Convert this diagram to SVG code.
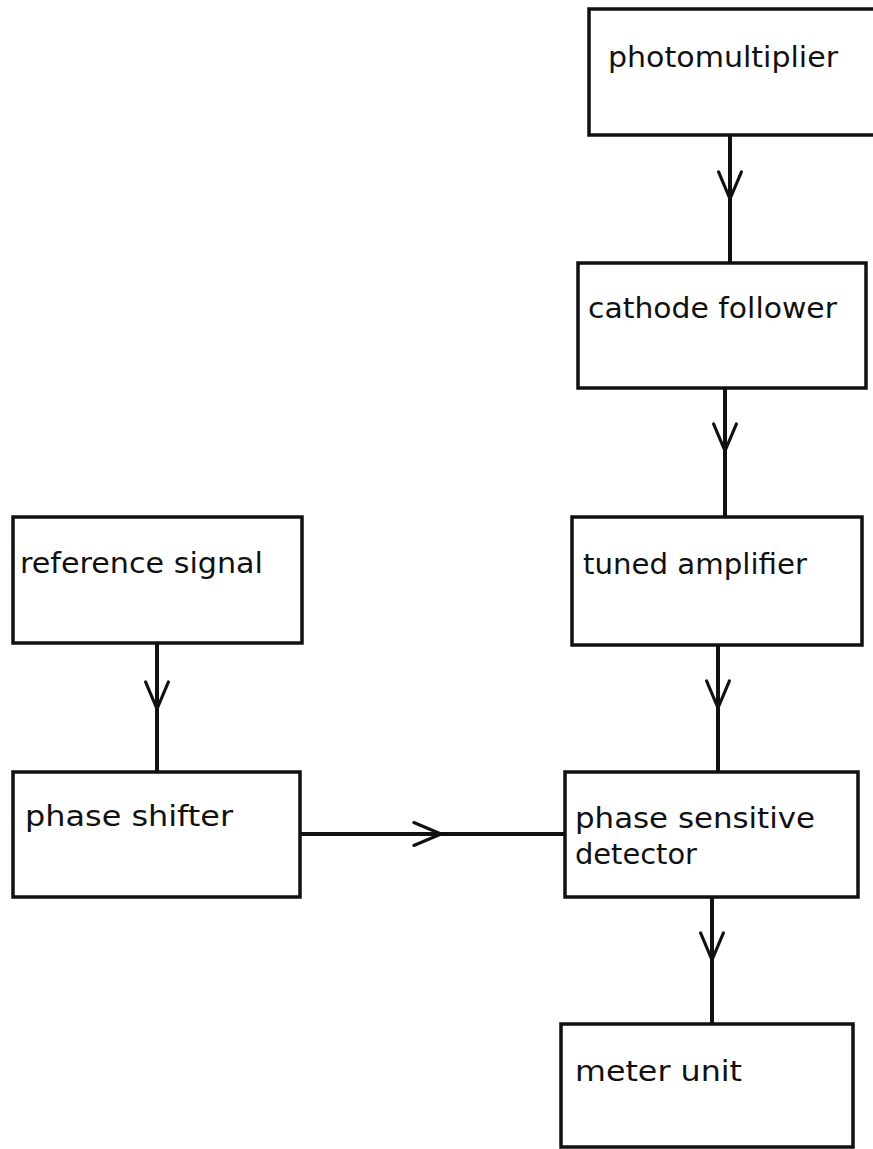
<svg xmlns="http://www.w3.org/2000/svg" width="873" height="1149" viewBox="0 0 873 1149">
  <style>
    .box { fill: #ffffff; stroke: #111111; stroke-width: 3.5; }
    .lbl { font-family: "DejaVu Sans", "Liberation Sans", sans-serif; font-size: 28px; fill: #111111; }
    .conn { fill: none; stroke: #111111; stroke-width: 4; marker-mid: url(#chev); }
  </style>
  <defs>
    <marker id="chev" markerUnits="userSpaceOnUse" markerWidth="40" markerHeight="40" viewBox="-22 -14 26 28" refX="0" refY="0" orient="auto" overflow="visible">
      <path d="M-19,-8 L0,0 L-19,8" fill="none" stroke="#111111" stroke-width="2.2" stroke-linecap="round" stroke-linejoin="round"/>
    </marker>
  </defs>
  <rect width="873" height="1149" fill="#ffffff"/>

  <g id="connectors">
    <polyline class="conn" points="730,135 730,199 730,263"/>
    <polyline class="conn" points="725,388 725,451 725,517"/>
    <polyline class="conn" points="718,645 718,708 718,772"/>
    <polyline class="conn" points="712,897 712,960 712,1024"/>
    <polyline class="conn" points="157,643 157,709 157,772"/>
    <polyline class="conn" points="300,834 441,834 565,834"/>
  </g>

  <g id="photomultiplier">
    <rect class="box" x="589" y="9" width="290" height="126"/>
    <text class="lbl" x="608" y="67" textLength="230" lengthAdjust="spacingAndGlyphs">photomultiplier</text>
  </g>
  <g id="cathode-follower">
    <rect class="box" x="578" y="263" width="288" height="125"/>
    <text class="lbl" x="588" y="318" textLength="249" lengthAdjust="spacingAndGlyphs">cathode follower</text>
  </g>
  <g id="tuned-amplifier">
    <rect class="box" x="572" y="517" width="290" height="128"/>
    <text class="lbl" x="583" y="574" textLength="224" lengthAdjust="spacingAndGlyphs">tuned amplifier</text>
  </g>
  <g id="phase-sensitive-detector">
    <rect class="box" x="565" y="772" width="293" height="125"/>
    <text class="lbl" x="575" y="828" textLength="240" lengthAdjust="spacingAndGlyphs">phase sensitive</text>
    <text class="lbl" x="575" y="864" textLength="122" lengthAdjust="spacingAndGlyphs">detector</text>
  </g>
  <g id="meter-unit">
    <rect class="box" x="561" y="1024" width="292" height="123"/>
    <text class="lbl" x="575" y="1081" textLength="167" lengthAdjust="spacingAndGlyphs">meter unit</text>
  </g>
  <g id="reference-signal">
    <rect class="box" x="13" y="517" width="289" height="126"/>
    <text class="lbl" x="20" y="573" textLength="243" lengthAdjust="spacingAndGlyphs">reference signal</text>
  </g>
  <g id="phase-shifter">
    <rect class="box" x="13" y="772" width="287" height="125"/>
    <text class="lbl" x="25" y="826" textLength="208" lengthAdjust="spacingAndGlyphs">phase shifter</text>
  </g>
</svg>
